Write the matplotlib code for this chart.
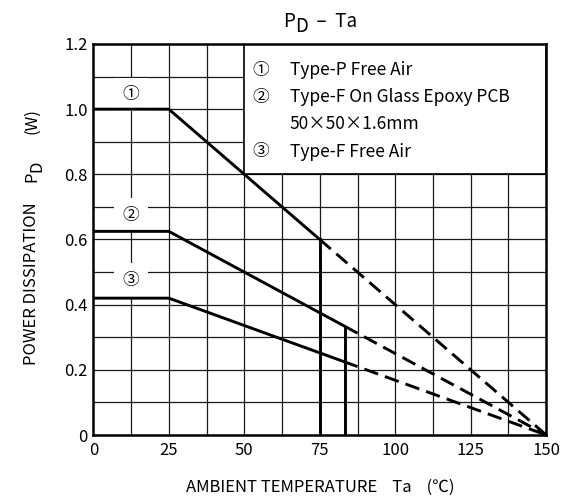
import matplotlib
matplotlib.use("Agg")
import matplotlib.pyplot as plt
from matplotlib.patches import Rectangle
import numpy as np

plt.rcParams['font.family'] = ['Noto Sans CJK JP', 'DejaVu Sans']

# Data: derating curves (x in degC, y in W)
flat_end = 25
tmax = 150
pd_max = [1.0, 0.625, 0.42]          # series 1, 2, 3
solid_end = [75, 87.5, 87.5]          # where solid line turns dashed
dash_start_gap = [False, True, True]
vline_x = [75, 83.5]                  # vertical markers (series 1, 2)
marks = ['①', '②', '③']
mark_y = [1.045, 0.675, 0.475]
legend_marks = ['①', '②', '', '③']
legend_lines = ['Type-P Free Air',
                'Type-F On Glass Epoxy PCB',
                '50×50×1.6mm',
                'Type-F Free Air']
xticks = [0, 25, 50, 75, 100, 125, 150]
yticks = [0, 0.2, 0.4, 0.6, 0.8, 1.0, 1.2]
ytick_labels = ['0', '0.2', '0.4', '0.6', '0.8', '1.0', '1.2']

W, H = 569, 500
fig = plt.figure(figsize=(W / 100, H / 100), dpi=100)
ax = fig.add_axes([0.164, 0.13, 0.796, 0.782])
ax.set_xlim(0, 150)
ax.set_ylim(0, 1.2)

# grid
for gx in np.arange(12.5, 150, 12.5):
    ax.axvline(gx, color='#1a1a1a', lw=0.9, zorder=1)
for gy in np.arange(0.1, 1.2, 0.1):
    ax.axhline(gy, color='#1a1a1a', lw=0.9, zorder=1)

# legend box
ax.add_patch(Rectangle((50, 0.8), 100, 0.4, facecolor='white', edgecolor='black',
                       lw=1.2, zorder=2))
for i, (m, t) in enumerate(zip(legend_marks, legend_lines)):
    yy = 1.12 - i * 0.0835
    if m:
        ax.text(55.5, yy, m, fontsize=12, va='center', ha='center', zorder=3)
    ax.text(65, yy, t, fontsize=12.5, va='center', ha='left', zorder=3)

def line_y(p, x):
    return np.where(np.asarray(x) <= flat_end, p, p * (tmax - np.asarray(x)) / (tmax - flat_end))

for p, se, g in zip(pd_max, solid_end, dash_start_gap):
    xs = [0, flat_end, se]
    ax.plot(xs, line_y(p, xs), color='black', lw=2.1, zorder=4, solid_capstyle='butt')
    xd = [se, tmax]
    ls = (5.0, (5, 2.5)) if g else (0, (5, 2.5))
    ax.plot(xd, line_y(p, xd), color='black', lw=2.1, zorder=4, linestyle=ls)

for vx, p in zip(vline_x, pd_max[:2]):
    ax.plot([vx, vx], [0, float(line_y(p, vx))], color='black', lw=2.1, zorder=4)

for m, my in zip(marks, mark_y):
    ax.text(12.5, my, m, fontsize=12, ha='center', va='center', zorder=3,
            bbox=dict(facecolor='white', edgecolor='none', pad=6))

ax.set_xticks(xticks)
ax.set_xticklabels([str(v) for v in xticks], fontsize=12)
ax.set_yticks(yticks)
ax.set_yticklabels(ytick_labels, fontsize=12)
ax.tick_params(length=0)
ax.tick_params(axis='x', pad=5)
ax.tick_params(axis='y', pad=4)
for s in ax.spines.values():
    s.set_linewidth(1.8)
    s.set_zorder(5)

renderer = fig.canvas.get_renderer()

def measure(s, fs):
    t = fig.text(0, 0, s, fontsize=fs)
    w = t.get_window_extent(renderer).width
    t.remove()
    return w

# Title "P_D – Ta" with large subscript
pieces = [('P', 0), ('D', -5), ('  –  Ta', 0)]
tfs = 13.5
widths = [measure(s, tfs) for s, _ in pieces]
cx = (0.164 + 0.796 / 2) * W
x = cx - sum(widths) / 2
base_y = H - 27
for (s, dy), w in zip(pieces, widths):
    fig.text(x / W, (base_y + dy) / H, s, fontsize=tfs, ha='left', va='baseline')
    x += w

# Y label "POWER DISSIPATION   P_D   (W)" rotated, with large subscript
yfs = 12
ypieces = [('POWER DISSIPATION', 0, 0), ('P', 0, 20), ('D', 5, 0), ('(W)', 0, 27)]
yb = H - 365       # start (bottom) in pixels from figure bottom
basex = 36
for s, dx, gap in ypieces:
    yb += gap
    fig.text((basex + dx) / W, yb / H, s, fontsize=yfs, rotation=90,
             rotation_mode='anchor', ha='left', va='baseline')
    yb += measure(s, yfs)

ax.set_xlabel('AMBIENT TEMPERATURE    Ta    (℃)', fontsize=12, labelpad=14)

fig.savefig('out.png', dpi=100)
